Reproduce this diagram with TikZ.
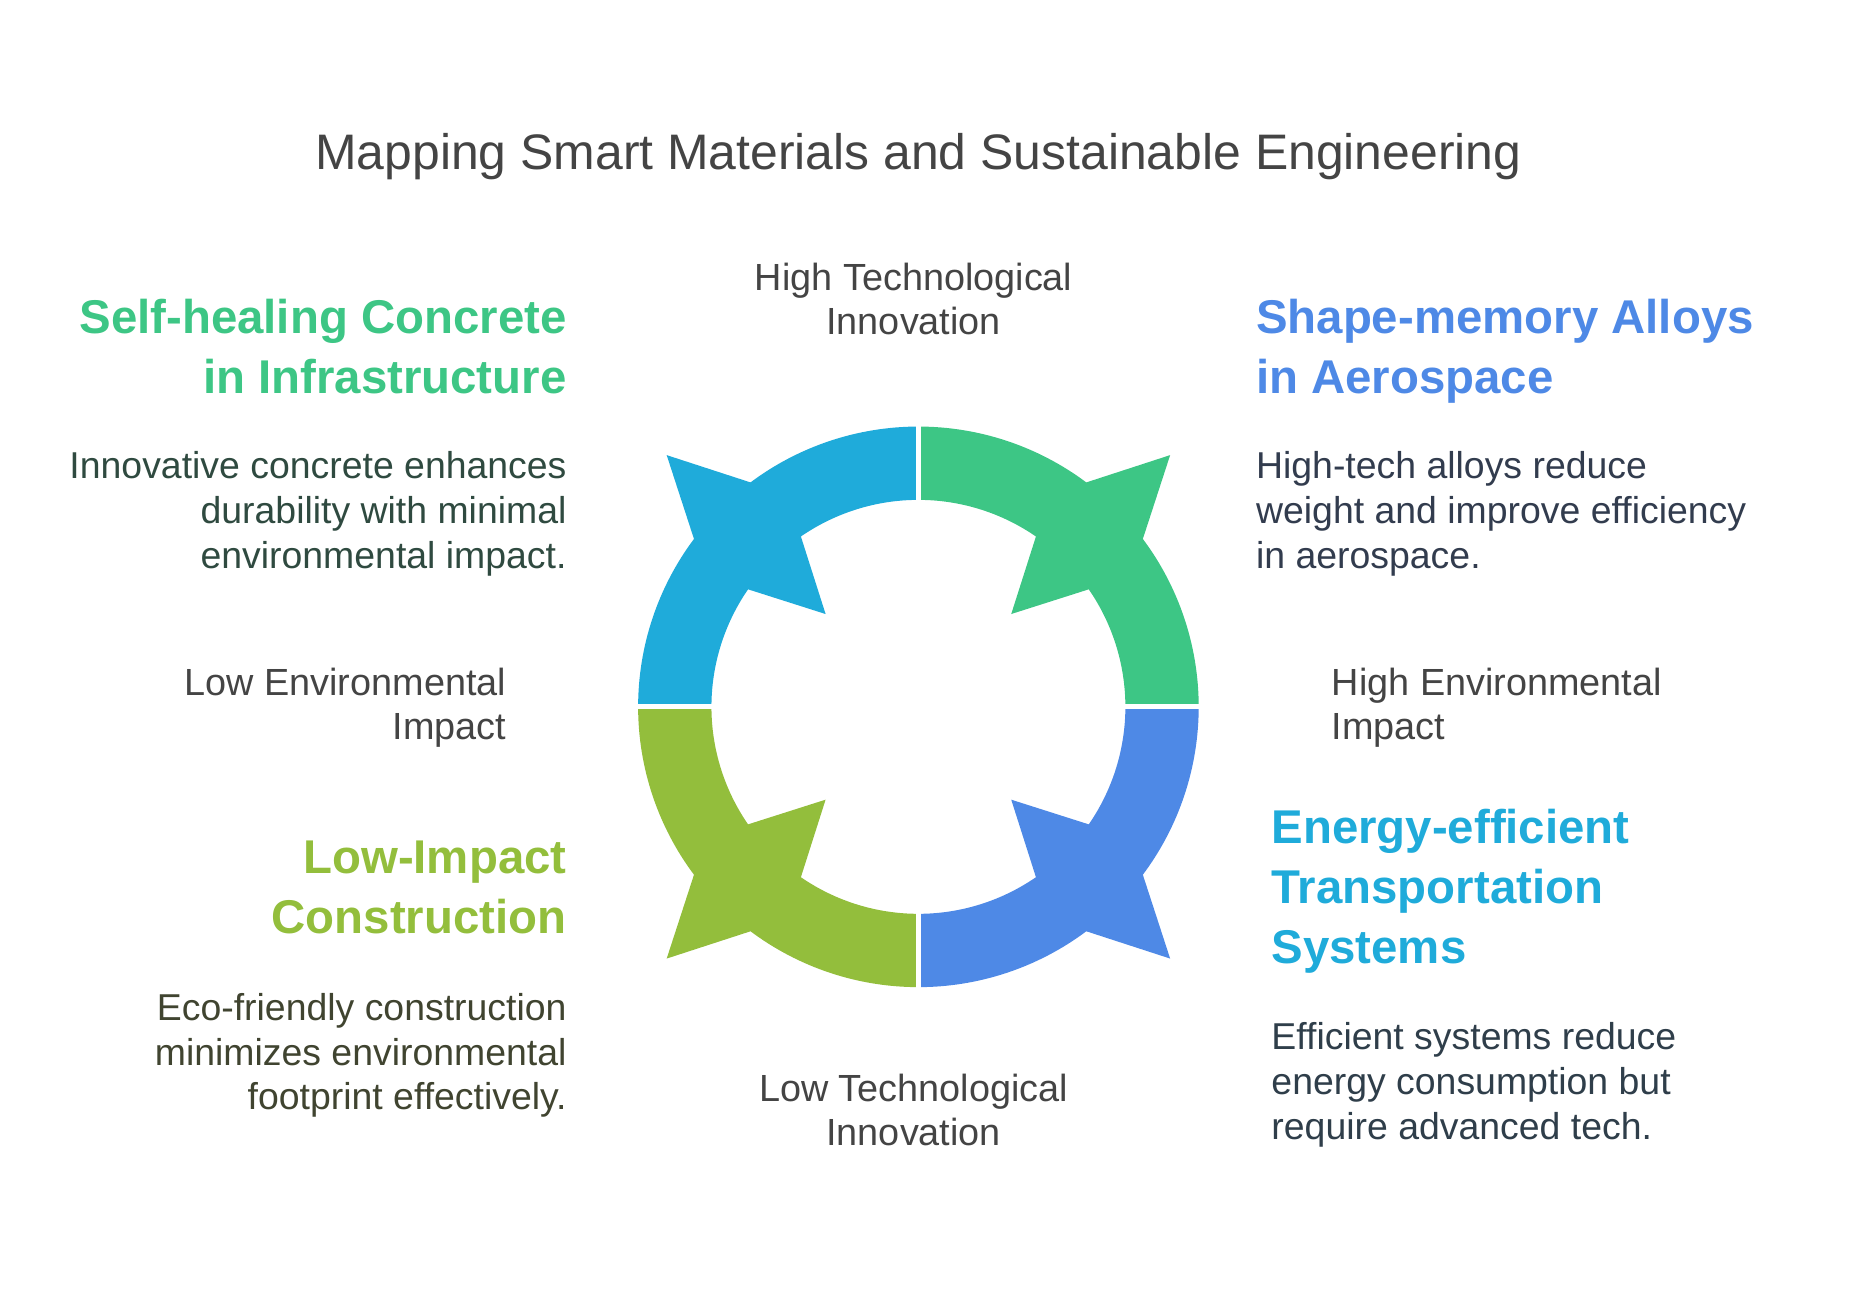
\documentclass[tikz,border=0pt]{standalone}
\usepackage{fontspec}
\setmainfont{Liberation Sans}
\usetikzlibrary{positioning}
\definecolor{smcyan}{RGB}{31,171,218}
\definecolor{smgreen}{RGB}{61,198,133}
\definecolor{smblue}{RGB}{78,137,230}
\definecolor{smolive}{RGB}{147,190,60}
\definecolor{smcyantext}{RGB}{47,62,74}
\definecolor{smgreentext}{RGB}{47,74,64}
\definecolor{smbluetext}{RGB}{50,60,78}
\definecolor{smolivetext}{RGB}{64,68,48}
\definecolor{smaxis}{RGB}{68,68,68}
\tikzstyle{heading} = [inner sep=0pt, font=\bfseries\fontsize{11.4}{14.4}\selectfont]
\tikzstyle{body} = [inner sep=0pt, font=\fontsize{9}{10.8}\selectfont]
\tikzstyle{axis} = [inner sep=0pt, font=\fontsize{9.1}{10.6}\selectfont, text=smaxis]
% one quarter of the ring, #1 = middle angle
\newcommand{\ringpart}[2]{%
  \fill[#2] (#1-45:2.37cm) arc[start angle=#1-45, end angle=#1-8.2, radius=2.37cm]
    -- (#1:3.01cm) -- (#1+8.2:2.37cm)
    arc[start angle=#1+8.2, end angle=#1+45, radius=2.37cm]
    -- (#1+45:1.75cm) arc[start angle=#1+45, end angle=#1+10.4, radius=1.75cm]
    -- (#1:1.11cm) -- (#1-10.4:1.75cm)
    arc[start angle=#1-10.4, end angle=#1-45, radius=1.75cm] -- cycle;}

\begin{document}
\begin{tikzpicture}[x=0.01cm, y=-0.01cm]
\useasboundingbox (0,0) rectangle (1566,1096);

% Ring
\begin{scope}[shift={(777,598)}]
\ringpart{135}{smcyan}
\ringpart{45}{smgreen}
\ringpart{-45}{smblue}
\ringpart{-135}{smolive}
\draw[white, line width=1.2pt] (-2.45cm,0) -- (2.45cm,0);
\draw[white, line width=1.2pt] (0,-2.45cm) -- (0,2.45cm);
\end{scope}

% Title
\node (title) [inner sep=0pt, anchor=base, font=\fontsize{12}{14}\selectfont, text=smaxis] at (777,143) {Mapping Smart Materials and Sustainable Engineering};

% Axes (base = last line)
\node (hightech) [axis, anchor=base, align=center] at (773,283) {High Technological\\Innovation};
\node (lowtech) [axis, anchor=base, align=center] at (773,969) {Low Technological\\Innovation};
\node (lowenv) [axis, anchor=base east, align=right] at (429,626) {Low Environmental\\Impact};
\node (highenv) [axis, anchor=base west, align=left] at (1126,626) {High Environmental\\Impact};

% Quadrants
\node (selfheal) [heading, anchor=base east, align=right, text=smgreen] at (480,333) {Self-healing Concrete\\in Infrastructure};
\node (selfhealtxt) [body, anchor=base east, align=right, text=smgreentext] at (480,481) {Innovative concrete enhances\\durability with minimal\\environmental impact.};

\node (shapemem) [heading, anchor=base west, align=left, text=smblue] at (1062,333) {Shape-memory Alloys\\in Aerospace};
\node (shapememtxt) [body, anchor=base west, align=left, text=smbluetext] at (1062,481) {High-tech alloys reduce\\weight and improve efficiency\\in aerospace.};

\node (lowimpact) [heading, anchor=base east, align=right, text=smolive] at (480,790) {Low-Impact\\Construction};
\node (lowimpacttxt) [body, anchor=base east, align=right, text=smolivetext] at (480,939) {Eco-friendly construction\\minimizes environmental\\footprint effectively.};

\node (energy) [heading, anchor=base west, align=left, text=smcyan] at (1075,815) {Energy-efficient\\Transportation\\Systems};
\node (energytxt) [body, anchor=base west, align=left, text=smcyantext] at (1075,964) {Efficient systems reduce\\energy consumption but\\require advanced tech.};
\end{tikzpicture}
\end{document}
